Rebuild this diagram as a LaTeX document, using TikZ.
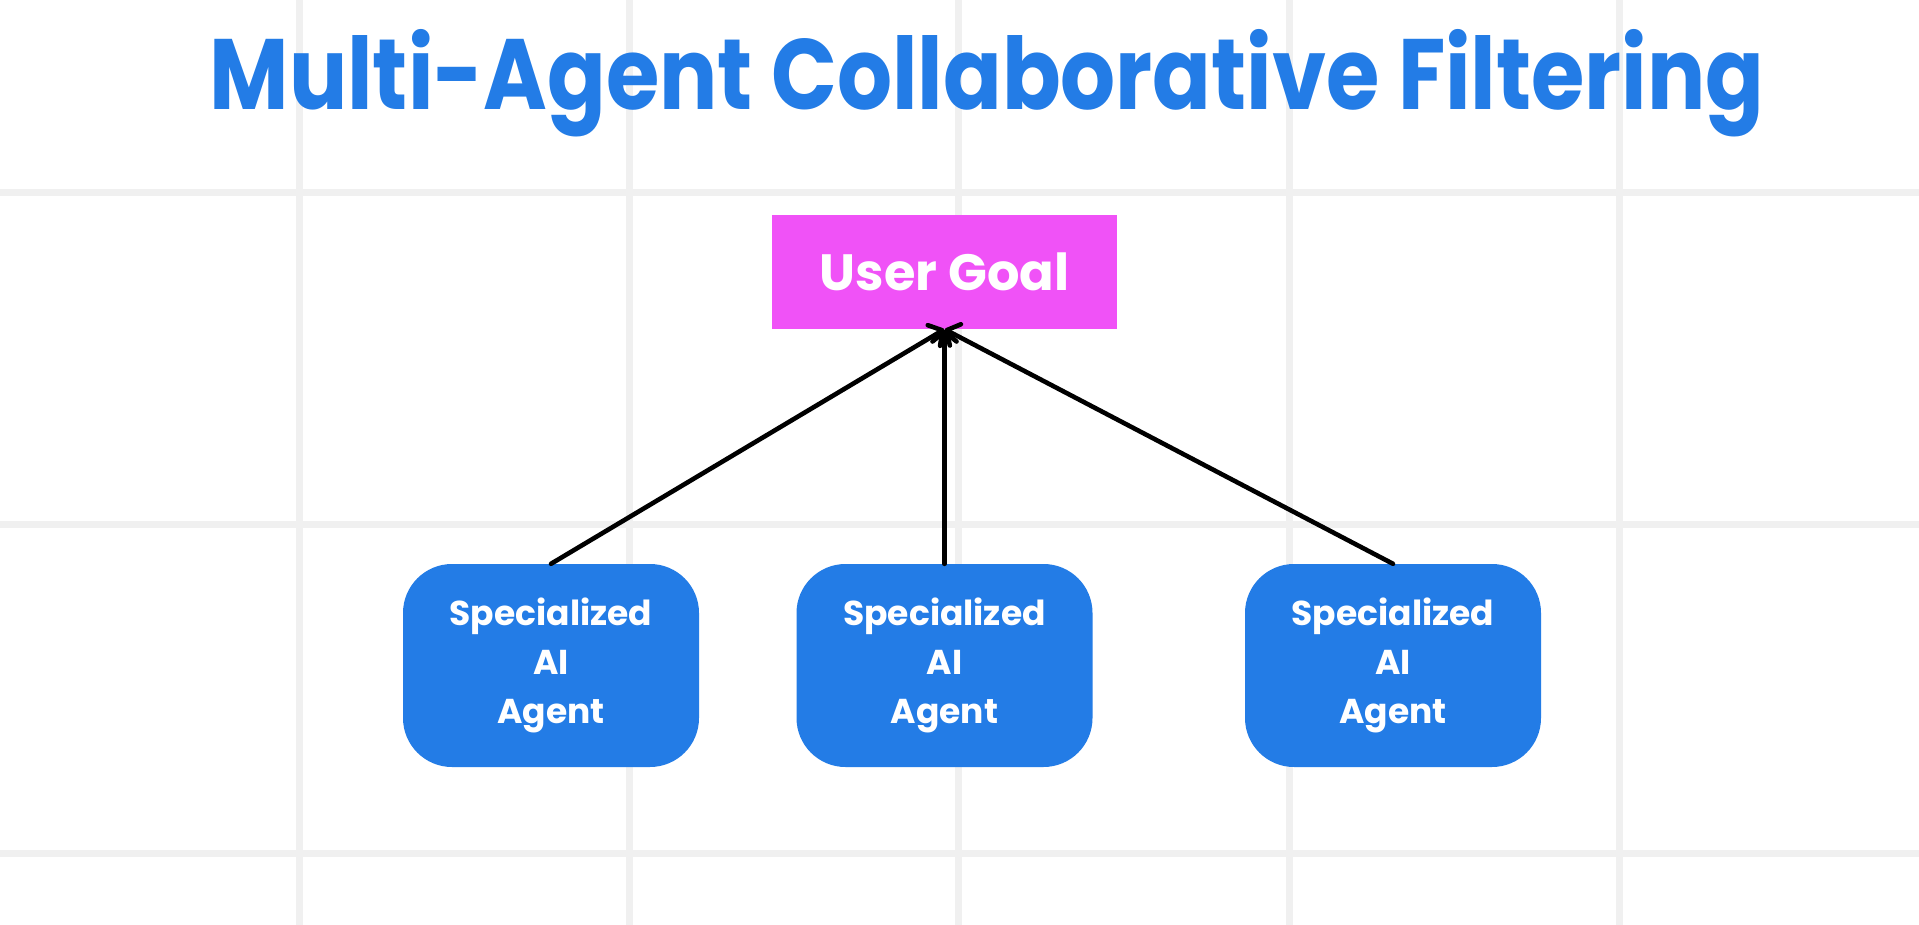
\documentclass[tikz,border=0pt]{standalone}
\usepackage{fontspec}
\setmainfont{Poppins}[BoldFont={* Bold}]
\usetikzlibrary{arrows.meta}
\definecolor{gridc}{HTML}{F0F0F0}
\definecolor{agentblue}{HTML}{237CE6}
\definecolor{goalpink}{HTML}{F052F7}
\tikzset{
  gridline/.style={draw=gridc, line width=7pt},
  agentbox/.style={draw=none, fill=agentblue, rounded corners=49pt, minimum width=296pt, minimum height=203pt, text=white, align=center, font=\fontsize{34.5}{49}\selectfont\bfseries},
  goalbox/.style={draw=none, fill=goalpink, minimum width=345pt, minimum height=114pt, text=white, font=\fontsize{51}{60}\selectfont\bfseries},
  link/.style={draw=black, line width=4.6pt, line cap=round, -{Straight Barb[length=10pt,width=24pt,line width=4.6pt,round]}},
  titletext/.style={text=agentblue, font=\fontsize{100}{110}\selectfont\bfseries}
}
\newcommand{\titlestr}{\scalebox{0.865}[1]{Multi-Agent Collaborative Filtering}}
\begin{document}
\begin{tikzpicture}[x=1pt,y=-1pt]
\useasboundingbox (0,0) rectangle (1919,925);
\fill[white] (0,0) rectangle (1919,925);
% grid
\foreach \gx in {299,629,958,1289,1619} \draw[gridline] (\gx,0) -- (\gx,925);
\foreach \gy in {193,524,853} \draw[gridline] (0,\gy) -- (1919,\gy);
% title
\node[titletext, anchor=base] (title) at (987,110) {\titlestr};
% goal
\node[goalbox] (goal) at (944.5,272) {User Goal};
% agents
\node[agentbox] (a1) at (551,665.5) {Specialized\\AI\\Agent};
\node[agentbox] (a2) at (944.5,665.5) {Specialized\\AI\\Agent};
\node[agentbox] (a3) at (1393,665.5) {Specialized\\AI\\Agent};
% links
\draw[link] (a1.north) -- (goal.south);
\draw[link] (a2.north) -- (goal.south);
\draw[link] (a3.north) -- (goal.south);
\end{tikzpicture}
\end{document}
